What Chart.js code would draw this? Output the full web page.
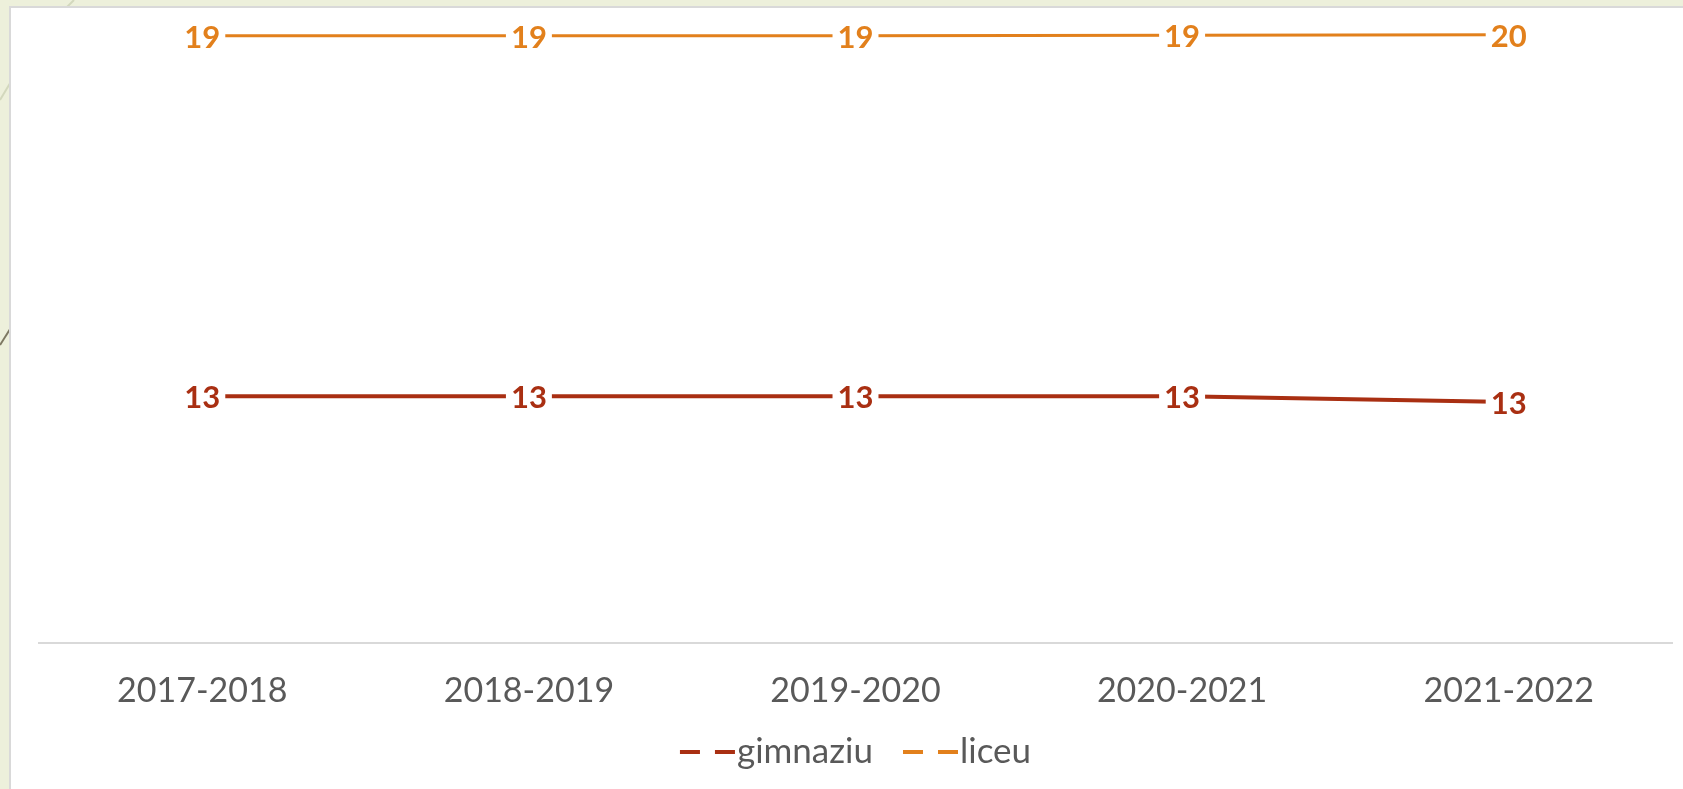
<!DOCTYPE html>
<html>
<head>
<meta charset="utf-8">
<script src="https://cdn.jsdelivr.net/npm/chart.js@4.4.1/dist/chart.umd.min.js"></script>
<style>
  html, body { margin: 0; padding: 0; }
  body { width: 1683px; height: 789px; background: #edf0db; position: relative; overflow: hidden; }
  #deco { position: absolute; left: 0; top: 0; }
  #panel { position: absolute; left: 9px; top: 6px; right: 0; bottom: 0; background: #fff;
           border-left: 2px solid #d9d9d9; border-top: 2px solid #d9d9d9; }
  #wrap { position: absolute; left: 0; top: 0; width: 1683px; height: 789px; }
</style>
</head>
<body>
<svg id="deco" width="1683" height="789">
  <line x1="74" y1="0" x2="64" y2="10" stroke="#d3d8bd" stroke-width="2"/>
  <line x1="0" y1="100" x2="12" y2="80" stroke="#d3d8bd" stroke-width="2"/>
  <line x1="0" y1="345" x2="12" y2="326" stroke="#7d7862" stroke-width="2"/>
</svg>
<div id="panel"></div>
<div id="wrap"><canvas id="chart"></canvas></div>

<script>
// school years on the x axis
const years = ["2017-2018", "2018-2019", "2019-2020", "2020-2021", "2021-2022"];

// series values (labels show them rounded)
const gimnaziu = [13.2, 13.2, 13.2, 13.2, 13.1];
const liceu = [19.48, 19.48, 19.48, 19.49, 19.5];

const seriesNames = ["gimnaziu", "liceu"];
const seriesColors = ["#a92f12", "#e2801c"];

const FONT = "Lato, 'Open Sans', sans-serif";

// draws the rounded value on each point, over a white box
const valueLabels = {
  id: "valueLabels",
  afterDatasetsDraw(chart) {
    const ctx = chart.ctx;
    ctx.save();
    ctx.font = "bold 31px " + FONT;
    ctx.textAlign = "center";
    ctx.textBaseline = "middle";
    chart.data.datasets.forEach((ds, i) => {
      const meta = chart.getDatasetMeta(i);
      meta.data.forEach((pt, j) => {
        const txt = String(Math.round(ds.data[j]));
        const w = ctx.measureText(txt).width;
        ctx.fillStyle = "#ffffff";
        ctx.fillRect(pt.x - w / 2 - 5, pt.y - 15, w + 10, 30);
        ctx.fillStyle = ds.borderColor;
        ctx.fillText(txt, pt.x, pt.y + 2);
      });
    });
    ctx.restore();
  }
};

// legend with dashed line swatches, text close to the swatch
const dashLegend = {
  id: "dashLegend",
  afterDraw(chart) {
    const ctx = chart.ctx;
    const area = chart.chartArea;
    const swatch = 55, gapText = 2, gapItem = 30;
    const y = 752;
    ctx.save();
    ctx.font = "35px " + FONT;
    const items = chart.data.datasets.map(ds => ({
      label: ds.label, color: ds.borderColor, w: ctx.measureText(ds.label).width
    }));
    let total = 0;
    items.forEach((it, i) => { total += swatch + gapText + it.w + (i ? gapItem : 0); });
    let x = (area.left + area.right) / 2 - total / 2;
    items.forEach(it => {
      ctx.strokeStyle = it.color;
      ctx.lineWidth = 4;
      ctx.setLineDash([20, 15]);
      ctx.beginPath();
      ctx.moveTo(x, y);
      ctx.lineTo(x + swatch, y);
      ctx.stroke();
      ctx.setLineDash([]);
      ctx.fillStyle = "#595959";
      ctx.textBaseline = "alphabetic";
      ctx.textAlign = "left";
      ctx.fillText(it.label, x + swatch + gapText, y + 11);
      x += swatch + gapText + it.w + gapItem;
    });
    ctx.restore();
  }
};

new Chart(document.getElementById("chart"), {
  type: "line",
  data: {
    labels: years,
    datasets: [
      {
        label: seriesNames[0],
        data: gimnaziu,
        borderColor: seriesColors[0],
        backgroundColor: seriesColors[0],
        borderWidth: 4,
        pointRadius: 0,
        tension: 0,
        fill: false
      },
      {
        label: seriesNames[1],
        data: liceu,
        borderColor: seriesColors[1],
        backgroundColor: seriesColors[1],
        borderWidth: 3,
        pointRadius: 0,
        tension: 0,
        fill: false
      }
    ]
  },
  options: {
    responsive: true,
    maintainAspectRatio: false,
    animation: false,
    layout: { padding: { left: 39, right: 11, top: 6, bottom: 51 } },
    scales: {
      x: {
        offset: true,
        grid: { display: false, drawTicks: false },
        border: { display: true, color: "#d9d9d9", width: 2 },
        ticks: {
          color: "#595959",
          font: { family: FONT, size: 34 },
          padding: 27,
          maxRotation: 0,
          autoSkip: false
        }
      },
      y: { display: false, min: 8.9, max: 20 }
    },
    plugins: {
      legend: { display: false },
      tooltip: { enabled: false }
    }
  },
  plugins: [valueLabels, dashLegend]
});
</script>
</body>
</html>
